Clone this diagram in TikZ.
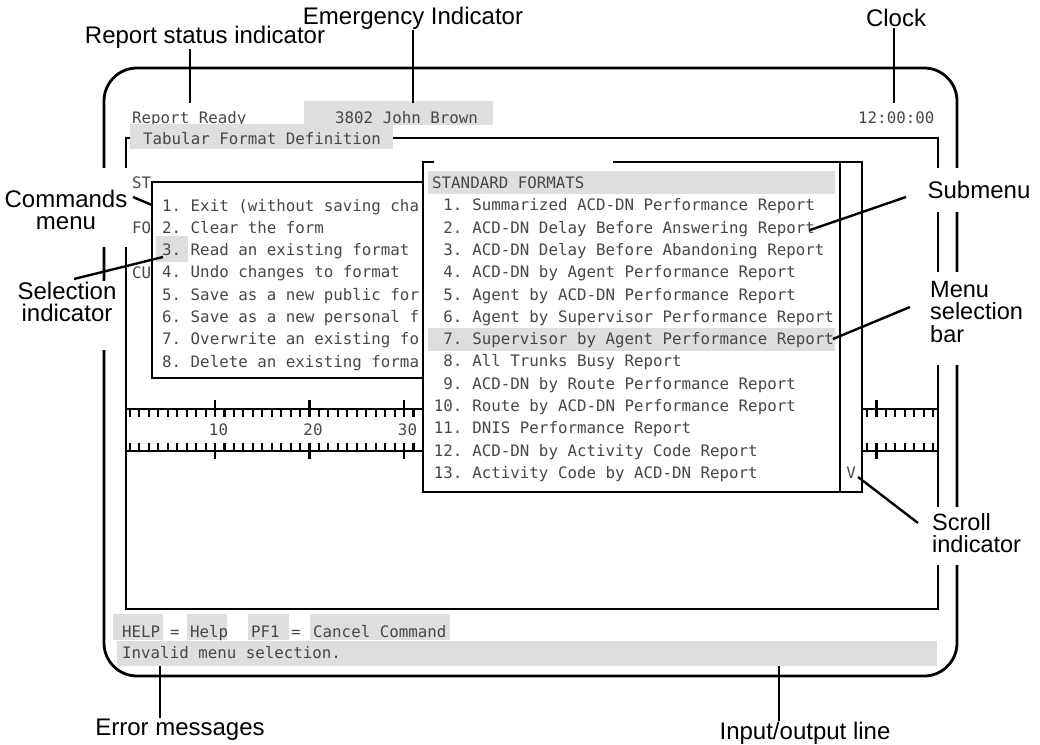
\documentclass[tikz,border=0pt]{standalone}
\usepackage{fontspec}
\setmainfont{Liberation Sans}
\newfontfamily\scrfont{DejaVu Sans Mono}
\begin{document}
\begin{tikzpicture}[x=1pt,y=-1pt,
  frm/.style={line width=2.8pt},
  lead/.style={line width=2.4pt},
  tickln/.style={line width=2.1pt},
  lbl/.style={font=\fontsize{24}{22.5}\selectfont, align=center, inner sep=1pt},
  lbll/.style={font=\fontsize{23.5}{22.5}\selectfont, align=left, inner sep=1pt, anchor=west},
  scr/.style={font=\scrfont\fontsize{15.8}{16}\selectfont, text=black!72, anchor=base west, inner sep=0pt},
  hl/.style={fill=black!13, draw=none},
  gap/.style={fill=white, draw=none}]
\useasboundingbox (0,0) rectangle (1040,744);

% frames
\draw[frm, rounded corners=33pt] (104,68) rectangle (957,676);
\draw[frm] (126,138) rectangle (938,609);

% gaps under the callout labels
\fill[gap] (92,168) rectangle (131,247);
\fill[gap] (92,281) rectangle (116,350);
\fill[gap] (926,168) rectangle (968,212);
\fill[gap] (926,272) rectangle (968,365);
\fill[gap] (926,507) rectangle (968,565);

% ruler
\draw[lead] (126,409) -- (938,409);
\draw[lead] (126,451) -- (938,451);
\foreach \i in {-9,...,76}{
  \pgfmathsetmacro\xx{215+9.45*\i}
  \pgfmathtruncatemacro\mm{mod(abs(\i),10)}
  \ifnum\mm=0
    \draw[tickln] (\xx,400) -- (\xx,417) (\xx,443) -- (\xx,459);
  \else
    \draw[tickln] (\xx,409) -- (\xx,417) (\xx,451) -- (\xx,443);
  \fi
}
\node[scr, anchor=base] (r10) at (218.5,435) {10};
\node[scr, anchor=base] (r20) at (313,435) {20};
\node[scr, anchor=base] (r30) at (407.5,435) {30};

% top status line
\node[scr] (ready) at (132,123) {Report Ready};
\fill[hl] (304,101) rectangle (493,125);
\node[scr] (emerg) at (335,123) {3802 John Brown};
\node[scr] (clock) at (858,123) {12:00:00};
\fill[hl] (130,124) rectangle (393,149);
\node[scr] (title) at (143,144) {Tabular Format Definition};

% hidden form text
\node[scr] (st) at (132,188) {ST};
\node[scr] (fo) at (132,233) {FO};
\node[scr] (cu) at (132,278) {CU};

% commands menu
\draw[frm, fill=white] (152,182) rectangle (620,378);
\fill[hl] (156,236) rectangle (188,262);
\foreach \t [count=\k] in {Exit (without saving cha,Clear the form,Read an existing format,Undo changes to format,Save as a new public for,Save as a new personal f,Overwrite an existing fo,Delete an existing forma}{
  \node[scr] (cmd\k) at (162,{211+22.3*(\k-1)}) {\k.\ \t};
}

% submenu
\draw[frm, fill=white] (423,162) rectangle (862,492);
\fill[gap] (434,155) rectangle (613,168);
\draw[frm] (840,162) -- (840,492);
\fill[hl] (428,171) rectangle (835,194);
\node[scr] (sfhead) at (432,188.5) {STANDARD FORMATS};
\fill[hl] (428,327.6) rectangle (835,351.1);
\foreach \t [count=\k] in {Summarized ACD-DN Performance Report,ACD-DN Delay Before Answering Report,ACD-DN Delay Before Abandoning Report,ACD-DN by Agent Performance Report,Agent by ACD-DN Performance Report,Agent by Supervisor Performance Report,Supervisor by Agent Performance Report,All Trunks Busy Report,ACD-DN by Route Performance Report,Route by ACD-DN Performance Report,DNIS Performance Report,ACD-DN by Activity Code Report,Activity Code by ACD-DN Report}{
  \node[scr, anchor=base east] (sn\k) at (462.6,{188.5+22.3*\k}) {\k.};
  \node[scr] (si\k) at (472.2,{188.5+22.3*\k}) {\t};
}
\node[scr, anchor=base] (vmark) at (851,478.4) {V};

% bottom lines
\fill[hl] (113,614) rectangle (163,640);
\fill[hl] (187,614) rectangle (227,640);
\fill[hl] (248,614) rectangle (289,640);
\fill[hl] (310,614) rectangle (450,640);
\node[scr] (bhelp) at (122,637) {HELP};
\node[scr] (beq1) at (170,637) {=};
\node[scr] (bhelp2) at (190,637) {Help};
\node[scr] (bpf) at (251,637) {PF1};
\node[scr] (beq2) at (291,637) {=};
\node[scr] (bcancel) at (313,637) {Cancel Command};
\fill[hl] (117,641) rectangle (937,666);
\node[scr] (binv) at (122,658) {Invalid menu selection.};

% callout labels
\node[lbl] (Lrs) at (205,37) {Report status indicator};
\node[lbl] (Lem) at (413,18) {Emergency Indicator};
\node[lbl] (Lck) at (896,18) {Clock};
\node[lbl] (Lcm) at (66,210) {Commands\\menu};
\node[lbl] (Lsi) at (67,302) {Selection\\indicator};
\node[lbl] (Lsub) at (979,190) {Submenu};
\node[lbll] (Lmsb) at (929,312) {Menu\\selection\\bar};
\node[lbll] (Lscr) at (931,533) {Scroll\\indicator};
\node[lbl] (Ler) at (180,730) {Error messages};
\node[lbl] (Lio) at (805,733) {Input/output line};

% leader end points
\coordinate (rsT) at (190,103);
\coordinate (emT) at (413,103);
\coordinate (ckT) at (894,103);
\coordinate (cmA) at (133,197);
\coordinate (cmB) at (152,205);
\coordinate (siA) at (74,279);
\coordinate (siB) at (163,257);
\coordinate (subA) at (906,197);
\coordinate (subB) at (810,230);
\coordinate (msA) at (910,307);
\coordinate (msB) at (833,339);
\coordinate (scA) at (918,523);
\coordinate (scB) at (858,477);
\coordinate (erT) at (160,666);
\coordinate (ioT) at (779,666);

\draw[lead] (rsT |- Lrs.south) -- (rsT);
\draw[lead] (Lem.south) -- (emT);
\draw[lead] (ckT |- Lck.south) -- (ckT);
\draw[lead] (cmA) -- (cmB);
\draw[lead] (siA) -- (siB);
\draw[lead] (subA) -- (subB);
\draw[lead] (msA) -- (msB);
\draw[lead] (scA) -- (scB);
\draw[lead] (erT |- Ler.north) -- (erT);
\draw[lead] (ioT |- Lio.north) -- (ioT);
\end{tikzpicture}
\end{document}
